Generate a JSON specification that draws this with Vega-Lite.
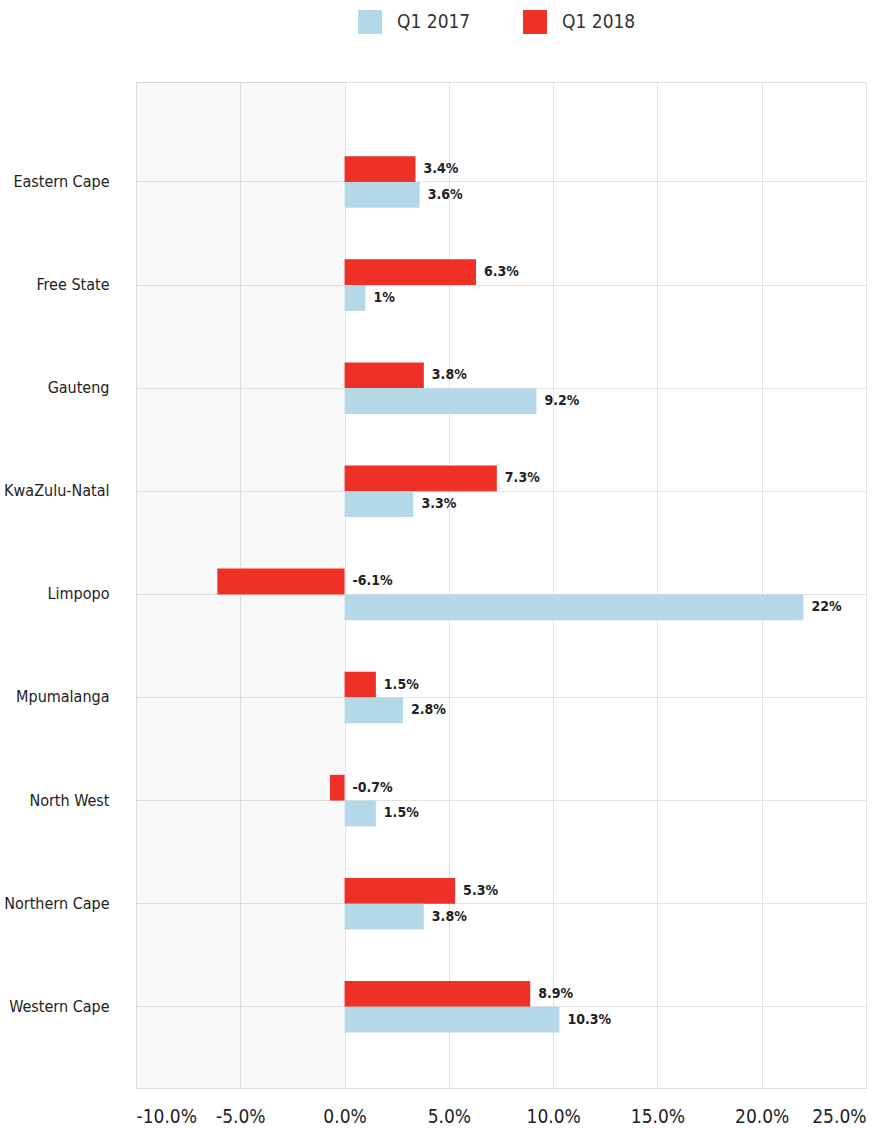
{
  "$schema": "https://vega.github.io/schema/vega-lite/v6.json",
  "width": 730,
  "height": 1006,
  "autosize": {"type": "none"},
  "padding": {"left": 136, "top": 82, "right": 29, "bottom": 40},
  "background": "#ffffff",
  "config": {
    "font": "Liberation Sans Narrow, DejaVu Sans Condensed, Roboto, sans-serif",
    "locale": {"number": {"decimal": ".", "thousands": ",", "grouping": [3], "currency": ["$", ""], "minus": "-"}},
    "view": {"stroke": "#dddddd", "strokeWidth": 1},
    "axis": {"gridColor": "#e3e3e3", "gridWidth": 1, "domain": false, "ticks": false, "labelColor": "#222222", "title": null},
    "legend": {
      "orient": "none", "legendX": 222, "legendY": -72, "direction": "horizontal",
      "symbolType": "square", "symbolSize": 576, "symbolStrokeWidth": 0, "symbolOpacity": 1,
      "labelFontSize": 19, "labelColor": "#333333", "labelOffset": 15, "columnPadding": 52, "title": null
    }
  },
  "data": {
    "values": [
      {"province": "Eastern Cape", "series": "Q1 2018", "value": 0.034},
      {"province": "Eastern Cape", "series": "Q1 2017", "value": 0.036},
      {"province": "Free State", "series": "Q1 2018", "value": 0.063},
      {"province": "Free State", "series": "Q1 2017", "value": 0.01},
      {"province": "Gauteng", "series": "Q1 2018", "value": 0.038},
      {"province": "Gauteng", "series": "Q1 2017", "value": 0.092},
      {"province": "KwaZulu-Natal", "series": "Q1 2018", "value": 0.073},
      {"province": "KwaZulu-Natal", "series": "Q1 2017", "value": 0.033},
      {"province": "Limpopo", "series": "Q1 2018", "value": -0.061},
      {"province": "Limpopo", "series": "Q1 2017", "value": 0.22},
      {"province": "Mpumalanga", "series": "Q1 2018", "value": 0.015},
      {"province": "Mpumalanga", "series": "Q1 2017", "value": 0.028},
      {"province": "North West", "series": "Q1 2018", "value": -0.007},
      {"province": "North West", "series": "Q1 2017", "value": 0.015},
      {"province": "Northern Cape", "series": "Q1 2018", "value": 0.053},
      {"province": "Northern Cape", "series": "Q1 2017", "value": 0.038},
      {"province": "Western Cape", "series": "Q1 2018", "value": 0.089},
      {"province": "Western Cape", "series": "Q1 2017", "value": 0.103}
    ]
  },
  "layer": [
    {
      "data": {"values": [{"from": -0.1, "to": 0}]},
      "mark": {"type": "rect", "color": "#000000", "opacity": 0.027},
      "encoding": {
        "x": {"field": "from", "type": "quantitative", "scale": {"domain": [-0.1, 0.25], "nice": false, "zero": false}},
        "x2": {"field": "to"}
      }
    },
    {
      "mark": {"type": "bar", "opacity": 1},
      "encoding": {
        "x": {
          "field": "value", "type": "quantitative",
          "scale": {"domain": [-0.1, 0.25], "nice": false},
          "axis": {"format": ".1%", "values": [-0.1, -0.05, 0, 0.05, 0.1, 0.15, 0.2, 0.25], "labelFontSize": 19, "labelPadding": 19, "grid": true}
        },
        "y": {
          "field": "province", "type": "nominal", "sort": null,
          "scale": {"paddingInner": 0, "paddingOuter": 0.379, "align": 0.62},
          "axis": {"grid": true, "bandPosition": 0.5, "labelFontSize": 16, "labelPadding": 27}
        },
        "yOffset": {"field": "series", "type": "nominal", "scale": {"domain": ["Q1 2018", "Q1 2017"], "paddingInner": 0, "paddingOuter": 1}},
        "color": {"field": "series", "type": "nominal", "scale": {"domain": ["Q1 2017", "Q1 2018"], "range": ["#b4d8e8", "#ee3026"]}}
      }
    },
    {
      "transform": [{"calculate": "max(datum.value, 0)", "as": "labelAt"}],
      "mark": {"type": "text", "align": "left", "baseline": "middle", "dx": 8, "fontWeight": "bold", "fontSize": 14, "color": "#222222"},
      "encoding": {
        "x": {"field": "labelAt", "type": "quantitative"},
        "y": {"field": "province", "type": "nominal", "sort": null},
        "yOffset": {"field": "series", "type": "nominal"},
        "text": {"field": "value", "type": "quantitative", "format": ".1~%"}
      }
    }
  ]
}
